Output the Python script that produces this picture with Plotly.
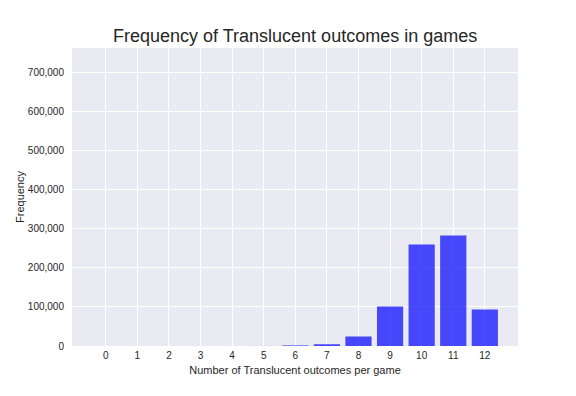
import plotly.graph_objects as go

outcomes = list(range(13))
tick_labels = [str(i) for i in outcomes]
frequency = [0, 0, 1, 5, 25, 120, 1500, 4500, 24300, 101000, 259500, 282500, 93400]
y_ticks = [0, 100000, 200000, 300000, 400000, 500000, 600000, 700000]
y_tick_labels = ["0", "100,000", "200,000", "300,000", "400,000", "500,000", "600,000", "700,000"]

fig = go.Figure()
fig.add_trace(go.Bar(
    x=outcomes, y=frequency, width=0.83,
    marker=dict(color="rgba(0,0,255,0.7)", line=dict(width=0)),
))

font = "Liberation Sans, Arial, sans-serif"
fig.update_layout(
    width=568, height=388,
    margin=dict(l=64, r=58, t=40, b=50, autoexpand=False),
    paper_bgcolor="white", plot_bgcolor="#EAEAF2",
    showlegend=False,
    font=dict(family=font, color="#262626", size=10),
    title=dict(text="Frequency of Translucent outcomes in games",
               x=0.5055, xanchor="center", y=0.913, yanchor="bottom",
               font=dict(size=18, color="#262626", family=font)),
)
fig.update_xaxes(
    range=[-1.07, 13.05], tickmode="array", tickvals=outcomes, ticktext=tick_labels,
    showgrid=True, gridcolor="white", gridwidth=1, zeroline=False,
    showline=False, ticks="", ticklabelstandoff=2, automargin=False,
    tickfont=dict(size=10, color="#262626"),
    title=dict(text="Number of Translucent outcomes per game", font=dict(size=11, color="#262626"), standoff=6),
)
fig.update_yaxes(
    range=[0, 762000], tickmode="array", tickvals=y_ticks, ticktext=y_tick_labels,
    showgrid=True, gridcolor="white", gridwidth=1, zeroline=False,
    showline=False, ticks="", ticklabelstandoff=7, automargin=False,
    tickfont=dict(size=10, color="#262626"),
    title=dict(text="Frequency", font=dict(size=11, color="#262626"), standoff=0),
)

fig.write_html("out.html")
